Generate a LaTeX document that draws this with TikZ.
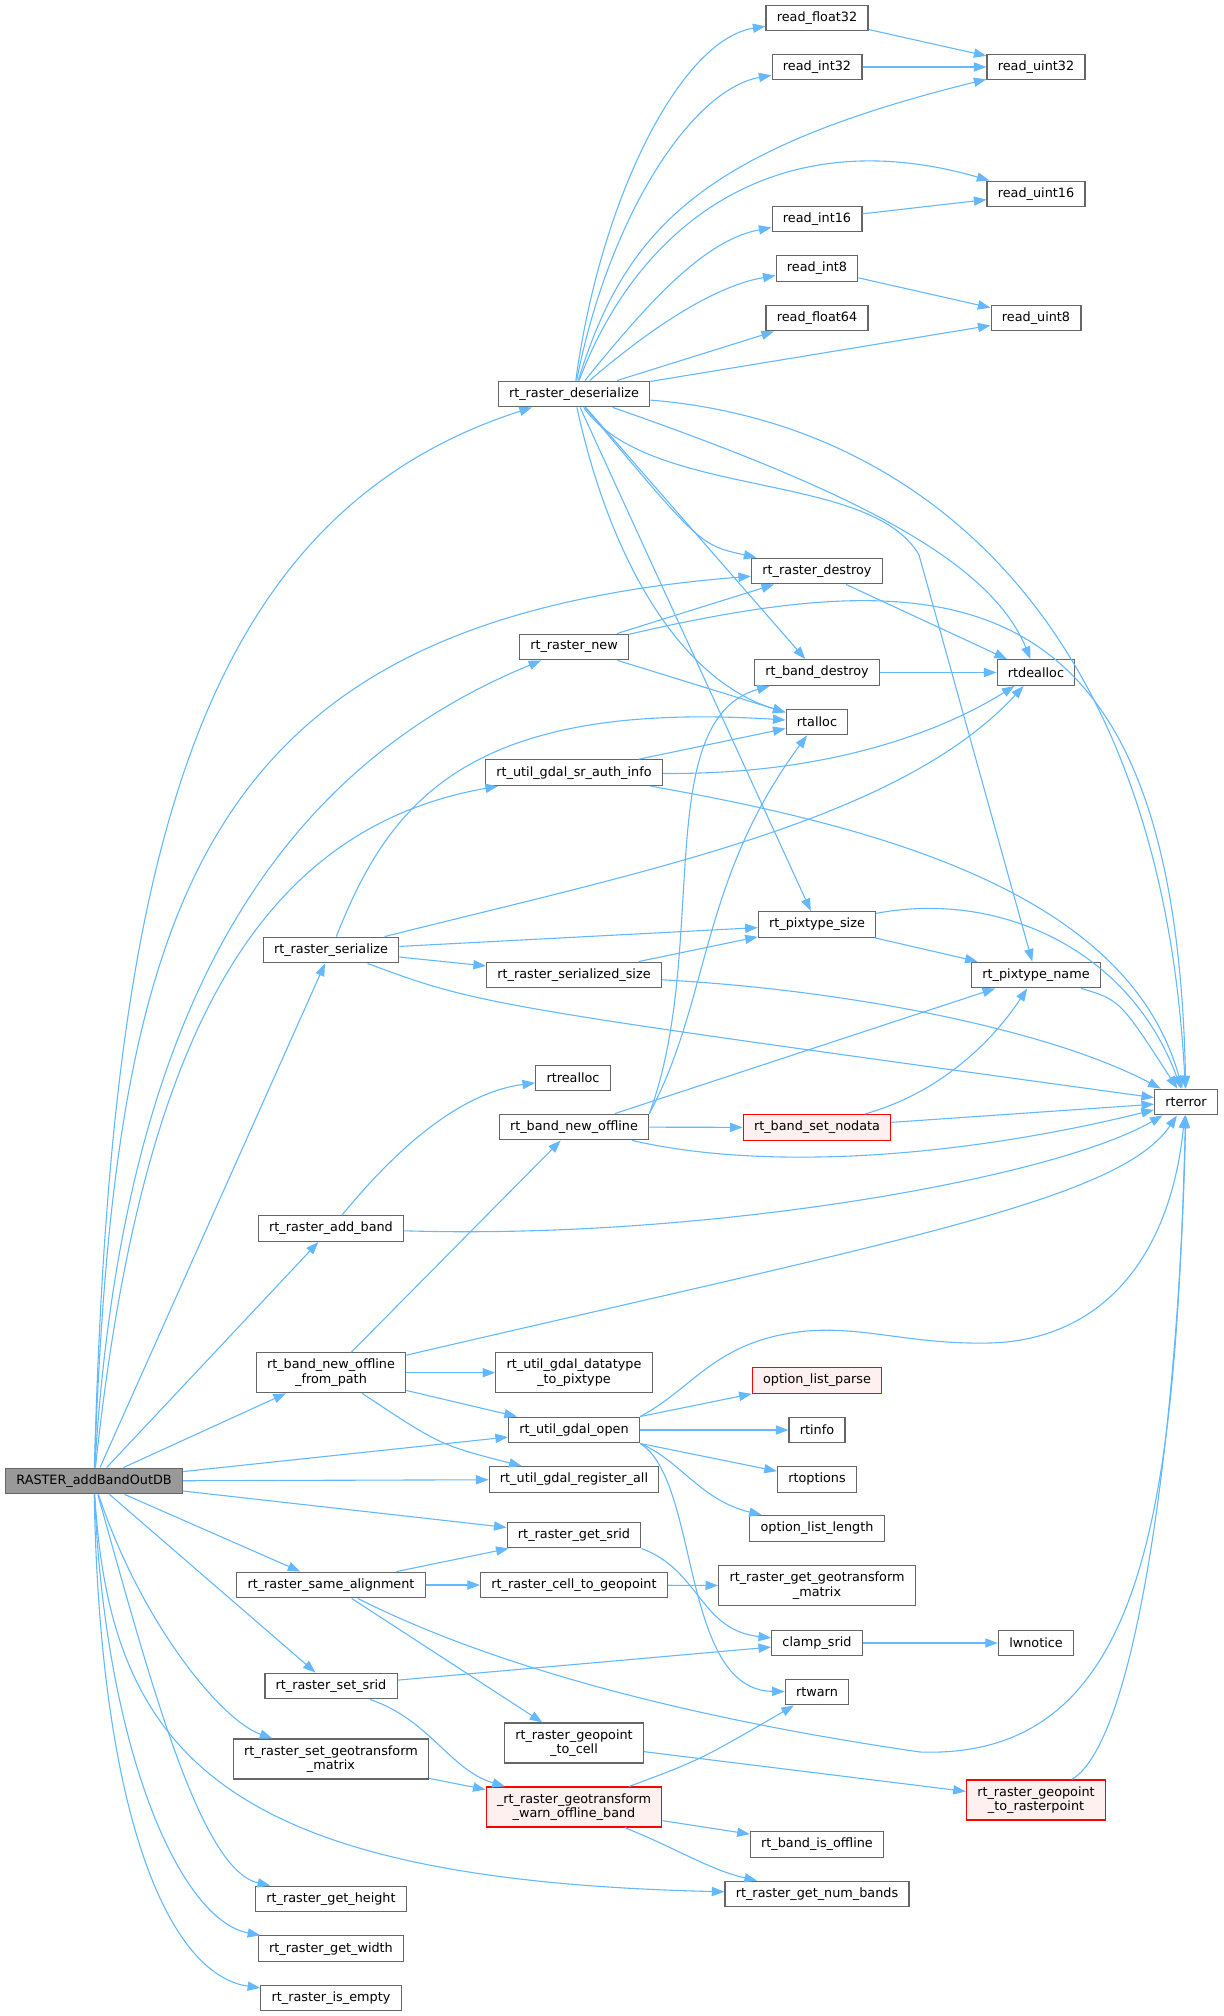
\documentclass[tikz,border=0pt]{standalone}
\usepackage{fontspec}
\setmainfont{DejaVu Sans}
\usepackage{tikz}
\usetikzlibrary{arrows.meta}
\usepackage{xcolor}
\definecolor{edgeblue}{HTML}{63B8FF}
\definecolor{boxgray}{HTML}{666666}
\definecolor{rootgray}{HTML}{999999}
\definecolor{errfill}{HTML}{FFF0F0}
\newcommand{\fnfont}{\fontsize{6.4}{7.1}\selectfont}

\begin{document}
\begin{tikzpicture}[x=0.5pt,y=-0.5pt]
\tikzstyle{fn}=[draw=boxgray, fill=white, line width=0.6pt, font=\fnfont, inner xsep=5.4pt, inner ysep=0pt, minimum height=12.85pt, align=center]
\tikzstyle{fntwo}=[fn, minimum height=20pt]
\tikzstyle{fnroot}=[fn, fill=rootgray]
\tikzstyle{fnerr}=[fn, draw=red, fill=errfill]
\tikzstyle{fnerrtwo}=[fnerr, minimum height=20pt]
\tikzstyle{call}=[draw=edgeblue, line width=0.55pt, -{Triangle[length=6.3pt,width=4.6pt]}]
\useasboundingbox (0,0) rectangle (1223,2016);

\node[fnroot] (outdb) at (94,1481) {RASTER\_addBandOutDB};
\node[fn] (deser) at (574,394) {rt\_raster\_deserialize};
\node[fn] (rdf32) at (817,18) {read\_float32};
\node[fn] (rdi32) at (817,67) {read\_int32};
\node[fn] (rdu32) at (1036,67) {read\_uint32};
\node[fn] (rdu16) at (1036,194) {read\_uint16};
\node[fn] (rdi16) at (817,219) {read\_int16};
\node[fn] (rdi8) at (817,268.5) {read\_int8};
\node[fn] (rdf64) at (817,318) {read\_float64};
\node[fn] (rdu8) at (1036,318) {read\_uint8};
\node[fn] (rdestroy) at (817,571) {rt\_raster\_destroy};
\node[fn] (rnew) at (574,647) {rt\_raster\_new};
\node[fn] (dealloc) at (1036,672.5) {rtdealloc};
\node[fn] (bdestroy) at (817,672.5) {rt\_band\_destroy};
\node[fn] (alloc) at (817,722) {rtalloc};
\node[fn] (srauth) at (574,772.7) {rt\_util\_gdal\_sr\_auth\_info};
\node[fn] (pxsize) at (817,924.5) {rt\_pixtype\_size};
\node[fn] (rser) at (331,950) {rt\_raster\_serialize};
\node[fn] (sersize) at (574,975) {rt\_raster\_serialized\_size};
\node[fn] (pxname) at (1036,975) {rt\_pixtype\_name};
\node[fn] (realloc) at (573,1078) {rtrealloc};
\node[fn] (rterr) at (1186,1102) {rterror};
\node[fn] (boff) at (574,1127) {rt\_band\_new\_offline};
\node[fnerr] (nodata) at (817,1127.5) {rt\_band\_set\_nodata};
\node[fn] (addband) at (331,1228.5) {rt\_raster\_add\_band};
\node[fntwo] (bpath) at (331,1372.7) {rt\_band\_new\_offline\\\_from\_path};
\node[fntwo] (dtype) at (574,1372.7) {rt\_util\_gdal\_datatype\\\_to\_pixtype};
\node[fnerr] (optparse) at (817,1380.5) {option\_list\_parse};
\node[fn] (gopen) at (574,1430) {rt\_util\_gdal\_open};
\node[fn] (rtinfo) at (817,1430) {rtinfo};
\node[fn] (greg) at (574,1479.5) {rt\_util\_gdal\_register\_all};
\node[fn] (rtopts) at (817,1479.3) {rtoptions};
\node[fn] (optlen) at (817,1528.5) {option\_list\_length};
\node[fn] (getsrid) at (574,1535) {rt\_raster\_get\_srid};
\node[fn] (sameal) at (331,1585) {rt\_raster\_same\_alignment};
\node[fn] (c2g) at (574,1585) {rt\_raster\_cell\_to\_geopoint};
\node[fntwo] (getgt) at (817,1585.7) {rt\_raster\_get\_geotransform\\\_matrix};
\node[fn] (clamp) at (817,1643) {clamp\_srid};
\node[fn] (lwnot) at (1036,1643) {lwnotice};
\node[fn] (setsrid) at (331,1686) {rt\_raster\_set\_srid};
\node[fn] (rtwarn) at (817,1692) {rtwarn};
\node[fntwo] (g2c) at (574,1743) {rt\_raster\_geopoint\\\_to\_cell};
\node[fntwo] (setgt) at (331,1759) {rt\_raster\_set\_geotransform\\\_matrix};
\node[fnerrtwo] (g2r) at (1036,1800) {rt\_raster\_geopoint\\\_to\_rasterpoint};
\node[fnerrtwo] (warnoff) at (574,1807) {\_rt\_raster\_geotransform\\\_warn\_offline\_band};
\node[fn] (isoff) at (817,1844.5) {rt\_band\_is\_offline};
\node[fn] (nbands) at (817,1894) {rt\_raster\_get\_num\_bands};
\node[fn] (getheight) at (331,1899) {rt\_raster\_get\_height};
\node[fn] (getwidth) at (331,1948.7) {rt\_raster\_get\_width};
\node[fn] (isempty) at (331,1998) {rt\_raster\_is\_empty};

\draw[call] (outdb) .. controls (110,900) and (180,520) .. (deser);
\draw[call] (outdb) .. controls (115,900) and (200,620) .. (rdestroy);
\draw[call] (outdb) .. controls (120,1050) and (250,780) .. (rnew);
\draw[call] (outdb) .. controls (140,1050) and (250,830) .. (srauth);
\draw[call] (outdb) -- (rser);
\draw[call] (outdb) -- (addband);
\draw[call] (outdb) -- (bpath);
\draw[call] (outdb) -- (gopen);
\draw[call] (outdb) -- (greg);
\draw[call] (outdb) -- (getsrid);
\draw[call] (outdb) -- (sameal);
\draw[call] (outdb) -- (setsrid);
\draw[call] (outdb) .. controls (140,1620) and (220,1720) .. (setgt);
\draw[call] (outdb) .. controls (110,1760) and (230,1880) .. (nbands);
\draw[call] (outdb) .. controls (150,1680) and (200,1870) .. (getheight);
\draw[call] (outdb) .. controls (105,1750) and (180,1920) .. (getwidth);
\draw[call] (outdb) .. controls (100,1820) and (170,1975) .. (isempty);

\draw[call] (deser) .. controls (600,200) and (680,40) .. (rdf32);
\draw[call] (deser) .. controls (608,220) and (690,90) .. (rdi32);
\draw[call] (deser) .. controls (625,230) and (700,150) .. (rdu32);
\draw[call] (deser) .. controls (640,220) and (780,120) .. (rdu16);
\draw[call] (deser) .. controls (650,300) and (705,240) .. (rdi16);
\draw[call] (deser) .. controls (660,320) and (720,285) .. (rdi8);
\draw[call] (deser) -- (rdf64);
\draw[call] (deser) -- (rdu8);
\draw[call] (deser) .. controls (900,420) and (1160,600) .. (rterr);
\draw[call] (deser) .. controls (850,490) and (990,560) .. (dealloc);
\draw[call] (deser) .. controls (650,500) and (870,470) .. (919,555) -- (pxname);
\draw[call] (deser) .. controls (700,545) .. (rdestroy);
\draw[call] (deser) -- (bdestroy);
\draw[call] (deser) .. controls (610,560) and (680,680) .. (alloc);
\draw[call] (deser) -- (pxsize);

\draw[call] (rdf32) -- (rdu32);
\draw[call] (rdi32) -- (rdu32);
\draw[call] (rdi16) -- (rdu16);
\draw[call] (rdi8) -- (rdu8);
\draw[call] (rdestroy) -- (dealloc);
\draw[call] (bdestroy) -- (dealloc);
\draw[call] (rnew) -- (rdestroy);
\draw[call] (rnew) -- (alloc);
\draw[call] (rnew) .. controls (950,560) and (1175,570) .. (rterr);
\draw[call] (srauth) -- (alloc);
\draw[call] (srauth) .. controls (850,775) and (960,720) .. (dealloc);
\draw[call] (srauth) .. controls (900,830) and (1130,900) .. (rterr);
\draw[call] (rser) .. controls (390,800) and (470,700) .. (alloc);
\draw[call] (rser) .. controls (650,870) and (900,820) .. (dealloc);
\draw[call] (rser) -- (pxsize);
\draw[call] (rser) -- (sersize);
\draw[call] (rser) .. controls (480,1005) .. (rterr);
\draw[call] (sersize) -- (pxsize);
\draw[call] (sersize) .. controls (850,990) and (1050,1030) .. (rterr);
\draw[call] (pxsize) -- (pxname);
\draw[call] (pxsize) .. controls (1000,890) and (1130,950) .. (rterr);
\draw[call] (pxname) .. controls (1120,1000) .. (rterr);
\draw[call] (boff.north east) .. controls (710,950) and (650,720) .. (bdestroy);
\draw[call] (boff.north east) .. controls (710,1000) and (700,880) .. (alloc);
\draw[call] (boff) -- (pxname);
\draw[call] (boff) -- (nodata);
\draw[call] (boff) .. controls (760,1170) and (950,1160) .. (rterr);
\draw[call] (nodata) .. controls (950,1090) and (1000,1030) .. (pxname);
\draw[call] (nodata) -- (rterr);
\draw[call] (addband) .. controls (420,1120) and (480,1090) .. (realloc);
\draw[call] (addband) .. controls (700,1240) and (1050,1180) .. (rterr);
\draw[call] (bpath) -- (boff);
\draw[call] (bpath) .. controls (900,1240) and (1120,1200) .. (rterr);
\draw[call] (bpath) -- (dtype);
\draw[call] (bpath) -- (gopen);
\draw[call] (bpath) .. controls (440,1445) .. (greg);
\draw[call] (gopen.north east) .. controls (690,1390) and (710,1350) .. (780,1335) .. controls (850,1320) and (900,1345) .. (990,1343) .. controls (1100,1340) and (1170,1260) .. (rterr);
\draw[call] (gopen) -- (optparse);
\draw[call] (gopen) -- (rtinfo);
\draw[call] (gopen) -- (rtopts);
\draw[call] (gopen.south east) .. controls (680,1460) and (700,1500) .. (optlen);
\draw[call] (gopen.south east) .. controls (700,1480) and (680,1690) .. (rtwarn);
\draw[call] (getsrid.south east) .. controls (700,1570) and (700,1630) .. (clamp);
\draw[call] (sameal) -- (getsrid);
\draw[call] (sameal) -- (c2g);
\draw[call] (sameal) -- (g2c);
\draw[call] (sameal) .. controls (500,1670) and (700,1720) .. (920,1752) .. controls (1150,1760) and (1175,1500) .. (rterr);
\draw[call] (c2g) -- (getgt);
\draw[call] (setsrid) -- (clamp);
\draw[call] (setsrid) .. controls (430,1720) and (450,1770) .. (warnoff);
\draw[call] (g2c) -- (g2r);
\draw[call] (setgt) -- (warnoff);
\draw[call] (clamp) -- (lwnot);
\draw[call] (warnoff) .. controls (700,1760) .. (rtwarn);
\draw[call] (warnoff) -- (isoff);
\draw[call] (warnoff) .. controls (680,1850) and (710,1870) .. (nbands);
\draw[call] (g2r) .. controls (1140,1740) and (1180,1400) .. (rterr);
\end{tikzpicture}
\end{document}
